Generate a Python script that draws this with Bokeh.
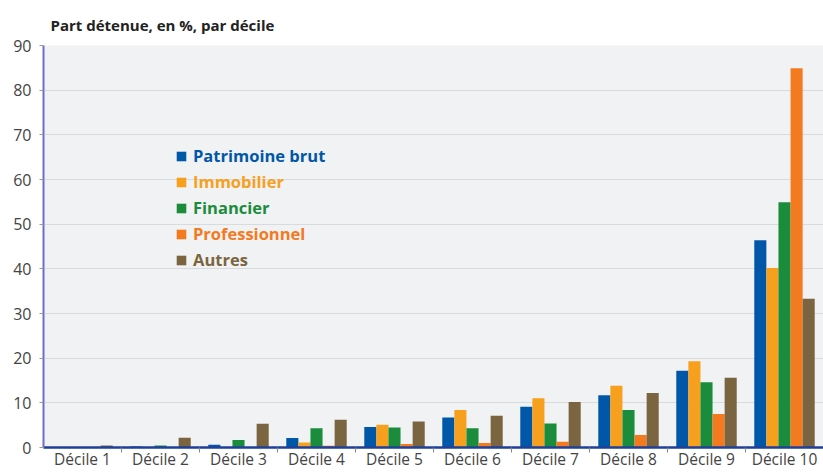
from bokeh.plotting import figure
from bokeh.models import FixedTicker, Legend, LegendItem, ColumnDataSource, Range1d
from bokeh.embed import file_html
from bokeh.resources import INLINE

deciles = ["Décile 1", "Décile 2", "Décile 3", "Décile 4", "Décile 5",
           "Décile 6", "Décile 7", "Décile 8", "Décile 9", "Décile 10"]
patrimoine_brut = [0.0, 0.2, 0.6, 2.1, 4.6, 6.7, 9.1, 11.7, 17.2, 46.4]
immobilier = [0.0, 0.0, 0.0, 1.1, 5.1, 8.4, 11.0, 13.8, 19.3, 40.2]
financier = [0.0, 0.45, 1.7, 4.3, 4.5, 4.3, 5.4, 8.4, 14.6, 54.9]
professionnel = [0.0, 0.0, 0.0, 0.4, 0.8, 1.0, 1.3, 2.8, 7.5, 84.9]
autres = [0.45, 2.2, 5.3, 6.2, 5.8, 7.1, 10.2, 12.2, 15.6, 33.3]

series_names = ["Patrimoine brut", "Immobilier", "Financier", "Professionnel", "Autres"]
series_values = [patrimoine_brut, immobilier, financier, professionnel, autres]
series_colors = ["#0057a8", "#f7a01e", "#1a8c3c", "#f47a20", "#7a6540"]
y_ticks = [0, 10, 20, 30, 40, 50, 60, 70, 80, 90]

p = figure(width=823, height=472, output_backend="svg", toolbar_location=None,
           x_range=Range1d(0, len(deciles)), y_range=Range1d(0, 90),
           min_border_left=43, min_border_right=0, min_border_top=45, min_border_bottom=25)
p.background_fill_color = "#f1f2f4"
p.border_fill_color = "white"
p.outline_line_color = None

bar_w = 0.155
legend_y = [280, 254, 228, 202, 176]
for j, (name, vals, col) in enumerate(zip(series_names, series_values, series_colors)):
    xs = [i + 0.5 + (j - 2) * bar_w for i in range(len(deciles))]
    src = ColumnDataSource(dict(x=xs, top=vals))
    r = p.vbar(x="x", top="top", bottom=0, width=bar_w, source=src,
               fill_color=col, line_color=None)
    leg = Legend(items=[LegendItem(label=name, renderers=[r])],
                 location=(132, legend_y[j]), orientation="vertical",
                 glyph_width=12, glyph_height=12, label_height=12,
                 label_standoff=6, padding=0, margin=0, spacing=0,
                 background_fill_alpha=0, border_line_color=None,
                 label_text_font="Open Sans", label_text_font_style="bold",
                 label_text_font_size="16.5px", label_text_color=col)
    p.add_layout(leg, "center")

# x axis
p.xaxis.ticker = FixedTicker(ticks=[i + 0.5 for i in range(len(deciles))],
                             minor_ticks=list(range(1, len(deciles))))
p.xaxis.major_label_overrides = {i + 0.5: d for i, d in enumerate(deciles)}
p.xaxis.major_tick_line_color = None
p.xaxis.major_tick_out = 0
p.xaxis.major_tick_in = 0
p.xaxis.minor_tick_line_color = "#888888"
p.xaxis.minor_tick_out = 5
p.xaxis.minor_tick_in = 0
p.xaxis.axis_line_color = "#1f3f9a"
p.xaxis.axis_line_width = 2.5
p.xaxis.major_label_text_font = "Open Sans"
p.xaxis.major_label_text_font_size = "15.5px"
p.xaxis.major_label_text_color = "#444444"
p.xaxis.major_label_standoff = -5

# y axis
p.yaxis.ticker = FixedTicker(ticks=y_ticks)
p.yaxis.axis_line_color = "#6d70c2"
p.yaxis.axis_line_width = 2
p.yaxis.major_tick_line_color = "#999999"
p.yaxis.major_tick_out = 4
p.yaxis.major_tick_in = 0
p.yaxis.minor_tick_line_color = None
p.yaxis.major_label_text_font = "Open Sans"
p.yaxis.major_label_text_font_size = "16px"
p.yaxis.major_label_text_color = "#444444"
p.yaxis.major_label_standoff = 8

p.xgrid.grid_line_color = None
p.ygrid.grid_line_color = "#d9dadd"
p.ygrid.grid_line_width = 1

p.title.text = "Part détenue, en %, par décile"
p.title.text_font = "Open Sans"
p.title.text_font_style = "bold"
p.title.text_font_size = "15px"
p.title.text_color = "#222222"
p.title.align = "left"
p.title.offset = 7
p.title.standoff = 21

open("out.html", "w").write(file_html(p, INLINE))
